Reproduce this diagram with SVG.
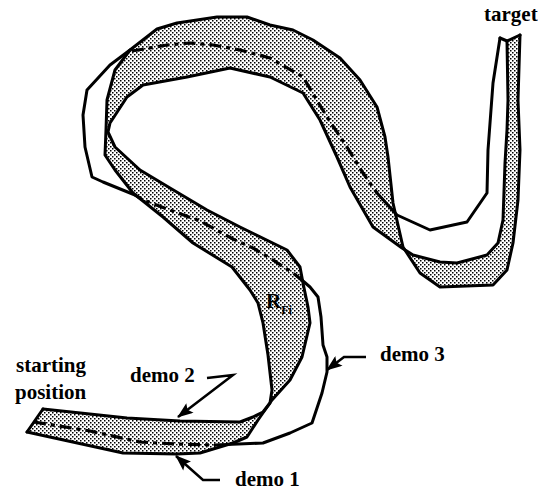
<svg xmlns="http://www.w3.org/2000/svg" width="538" height="492" viewBox="0 0 538 492">
<defs>
<pattern id="dots" width="4" height="4" patternUnits="userSpaceOnUse">
<rect x="0" y="0" width="1.5" height="1.5" fill="#000"/>
<rect x="2" y="2" width="1.5" height="1.5" fill="#000"/>
</pattern>
<marker id="ah" viewBox="0 0 16 12" refX="15" refY="6" markerWidth="17" markerHeight="12" markerUnits="userSpaceOnUse" orient="auto">
<path d="M0,0 L16,6 L0,12 L3,6 z" fill="#000"/>
</marker>
</defs>
<style>
.edge{fill:none;stroke:#000;stroke-width:3;stroke-linejoin:round;stroke-linecap:round}
.dash{fill:none;stroke:#000;stroke-width:3.2;stroke-dasharray:12 5 4 5;stroke-linejoin:round}
.lead{fill:none;stroke:#000;stroke-width:2.5;stroke-linejoin:miter}
.lbl{font-family:"Liberation Serif","Times New Roman",serif;font-weight:bold;font-size:21px;fill:#000}
.rf{font-family:"Liberation Serif","Times New Roman",serif;font-weight:bold;fill:#000}
</style>
<rect width="538" height="492" fill="#fff"/>
<g id="region">
<path fill="url(#dots)" stroke="none" d="M43,409 L127,418 L180,421 L240,422 L253,417 L263,412 L270,403 L272,390 L268,355 L263,323 L258,303 L250,290 L232,267 L193,243 L163,217 L133,193 L115,170 L105,155 L106,130 L107,100 L115,70 L130,50 L157,29 L177,23 L217,17 L247,17 L270,25 L293,30 L313,40 L340,58 L360,80 L377,107 L385,137 L388,157 L393,203 L403,247 L420,273 L440,287 L493,285 L507,270 L513,243 L518,200 L520,150 L518,100 L520,35 L507,41 L508,100 L507,130 L505,163 L503,220 L498,243 L487,255 L457,263 L440,262 L413,255 L402,248 L373,227 L350,187 L337,157 L320,120 L303,93 L270,77 L230,68 L187,77 L143,85 L127,97 L110,123 L108,132 L115,147 L140,170 L170,188 L207,210 L240,227 L287,250 L300,267 L303,283 L308,307 L310,323 L302,357 L290,380 L272,400 L258,420 L247,437 L233,443 L200,453 L177,454 L123,453 L27,432 Z"/>
</g>
<g id="demo2">
<path class="edge" d="M43,409 L127,418 L180,421 L240,422 L253,417 L263,412 L270,403 L272,390 L268,355 L263,323 L258,303 L250,290 L232,267 L193,243 L163,217 L133,193 L115,170 L105,155 L106,130 L107,100 L115,70 L130,50 L157,29 L177,23 L217,17 L247,17 L270,25 L293,30 L313,40 L340,58 L360,80 L377,107 L385,137 L388,157 L393,203 L403,247 L420,273 L440,287 L493,285 L507,270 L513,243 L518,200 L520,150 L518,100 L520,35"/>
</g>
<g id="demo1">
<path class="edge" d="M27,432 L123,453 L177,454 L200,453 L233,443 L247,437 L258,420 L272,400 L290,380 L302,357 L310,323 L308,307 L303,283 L300,267 L287,250 L240,227 L207,210 L170,188 L140,170 L115,147 L108,132 L110,123 L127,97 L143,85 L187,77 L230,68 L270,77 L303,93 L320,120 L337,157 L350,187 L373,227 L402,248 L413,255 L440,262 L457,263 L487,255 L498,243 L503,220 L505,163 L507,130 L508,100 L507,41"/>
</g>
<g id="demo3">
<path class="dash" d="M34,422 L90,431 L140,442 L175,444 L215,445"/>
<path class="edge" d="M215,445 L263,443 L290,433 L312,423 L322,393 L327,372 L327,357 L323,345 L321,317 L318,297 L310,287 L303,281"/>
<path class="dash" d="M303,281 L293,273 L273,260 L253,248 L233,239 L200,221 L170,210 L143,200 L135,195"/>
<path class="edge" d="M135,195 L103,182 L92,177 L85,147 L83,115 L87,90 L110,65 L130,50"/>
<path class="dash" d="M132,51 L167,45 L190,43 L213,45 L240,50 L270,58 L303,77 L327,117 L347,147 L363,173 L377,193"/>
<path class="edge" d="M377,193 L397,215 L430,230 L467,222 L487,193 L488,150 L493,83 L500,38"/>
</g>
<g id="ends">
<path class="edge" d="M43,409 L27,432"/>
<path class="edge" d="M500,38 L507,41 L520,35"/>
</g>
<g id="connectors">
<path class="lead" d="M207,378 L233,375 L178,417" marker-end="url(#ah)"/>
<path class="lead" d="M220,480 L203,480 L176,456" marker-end="url(#ah)"/>
<path class="lead" d="M366,357 L344,357 L327,370" marker-end="url(#ah)"/>
</g>
<g id="labels">
<text class="lbl" x="484" y="21">target</text>
<text class="lbl" x="16" y="372">starting</text>
<text class="lbl" x="15" y="399">position</text>
<text class="lbl" x="130" y="382">demo 2</text>
<text class="lbl" x="380" y="361">demo 3</text>
<text class="lbl" x="235" y="486">demo 1</text>
<text class="rf" x="266" y="308" font-size="21">R<tspan font-size="12" dy="6">Fi</tspan></text>
</g>
</svg>
